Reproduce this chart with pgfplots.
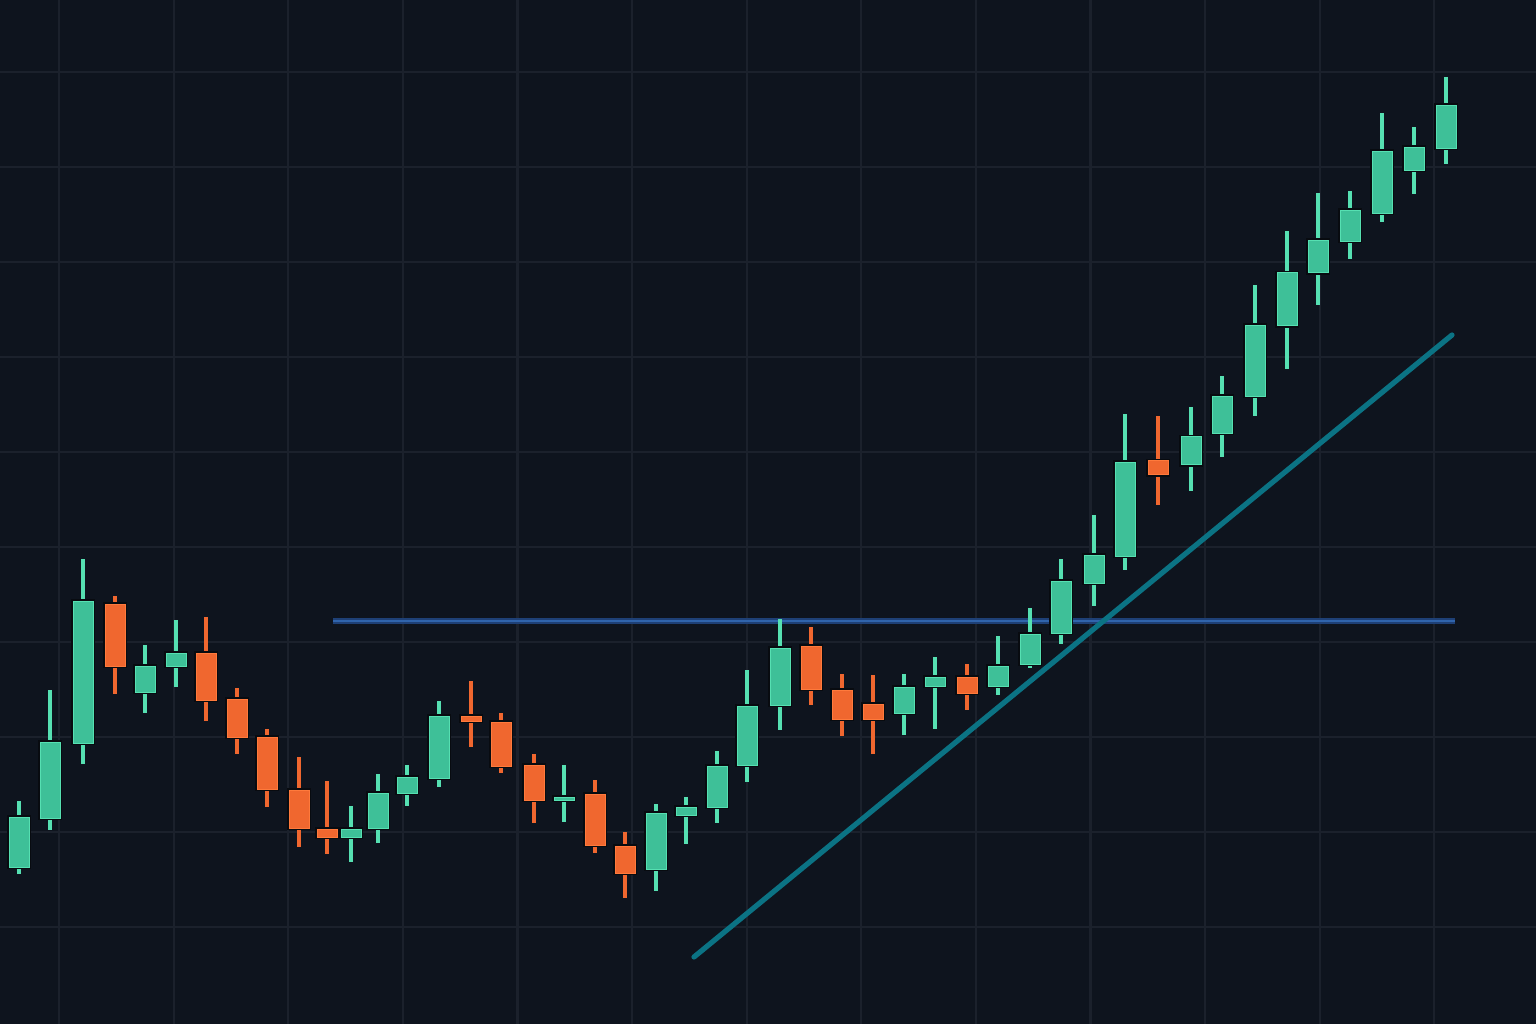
\documentclass[border=0pt]{standalone}
\usepackage{pgfplots}
\usepackage{pgfplotstable}
\pgfplotsset{compat=1.18}
\definecolor{bgcol}{RGB}{14,20,30}
\definecolor{gridcol}{RGB}{27,33,44}
\definecolor{upfill}{RGB}{62,192,152}
\definecolor{upedge}{RGB}{86,224,178}
\definecolor{dnfill}{RGB}{240,103,47}
\definecolor{dnedge}{RGB}{255,122,60}
\definecolor{outl}{RGB}{8,11,16}
\definecolor{trendcol}{RGB}{11,115,132}
\definecolor{levelcol}{RGB}{48,100,172}
\definecolor{leveledge}{RGB}{30,64,118}

% x = horizontal position, o/c/h/l = open, close, high, low
\pgfplotstableread{
x o c h l
19 156 207 223 150
50 205 282 334 194
83 280 423 465 260
145 331 358 379 311
176 357 371 404 337
351 186 195 218 162
378 195 231 250 181
407 230 247 259 218
439 245 308 323 237
564 223 227 259 202
656 154 211 220 133
686 208 217 227 180
717 216 258 273 201
747 258 318 354 242
780 318 376 405 294
904 310 337 350 289
935 337 347 367 295
998 337 358 388 329
1030 359 390 416 356
1061 390 443 465 380
1094 440 469 509 418
1125 467 562 610 454
1191 559 588 617 533
1222 590 628 648 567
1255 627 699 739 608
1287 698 752 793 655
1318 751 784 831 719
1350 782 814 833 765
1382 810 873 911 802
1414 853 877 897 830
1446 875 919 947 860
}\upcandles

\pgfplotstableread{
x o c h l
115 420 357 428 330
206 371 323 407 303
237 325 286 336 270
267 287 234 295 217
299 234 195 267 177
327 195 186 243 170
471 308 302 343 277
501 302 257 311 251
534 259 223 270 201
595 230 178 244 171
625 178 150 192 126
811 378 334 397 319
842 334 304 350 288
873 320 304 349 270
967 347 330 360 314
1158 564 549 608 519
}\dncandles

\pgfplotsset{
  layer/.style 2 args={draw=none, mark=none, forget plot,
    error bars/.cd, y dir=both, y explicit, error mark=none,
    error bar style={line width=#1, draw=#2, line cap=butt, solid}},
}

\begin{document}
\begin{tikzpicture}
\begin{axis}[
  name=ax,
  at={(0,0)}, anchor=south west,
  width=768bp, height=512bp, scale only axis,
  xmin=0, xmax=1536, ymin=0, ymax=1024,
  axis line style={draw=none},
  axis background/.style={fill=bgcol},
  xtick={59,173.6,288.2,402.8,517.4,632,746.6,861.2,975.8,1090.4,1205,1319.6,1434.2},
  ytick={97,192,287,382,477,572,667,762,857,952},
  xticklabels={}, yticklabels={},
  major tick length=0pt,
  tick style={draw=none},
  grid=major,
  major grid style={draw=gridcol, line width=1.1bp},
  clip=false,
]
% resistance level
\addplot[leveledge, line width=2.6bp, forget plot] coordinates {(333,403) (1455,403)};
\addplot[levelcol, line width=1.3bp, forget plot] coordinates {(333,403) (1455,403)};

% wicks
\addplot[layer={1.6bp}{upedge}] table[x=x, y expr={(\thisrow{h}+\thisrow{l})/2}, y error expr={(\thisrow{h}-\thisrow{l})/2}] {\upcandles};
\addplot[layer={1.6bp}{dnfill}] table[x=x, y expr={(\thisrow{h}+\thisrow{l})/2}, y error expr={(\thisrow{h}-\thisrow{l})/2}] {\dncandles};

% bodies: outline
\addplot[layer={11.8bp}{outl}] table[x=x, y expr={(\thisrow{o}+\thisrow{c})/2}, y error expr={abs(\thisrow{o}-\thisrow{c})/2+1.5}] {\upcandles};
\addplot[layer={11.8bp}{outl}] table[x=x, y expr={(\thisrow{o}+\thisrow{c})/2}, y error expr={abs(\thisrow{o}-\thisrow{c})/2+1.5}] {\dncandles};
% bodies: edge
\addplot[layer={10.5bp}{upedge}] table[x=x, y expr={(\thisrow{o}+\thisrow{c})/2}, y error expr={abs(\thisrow{o}-\thisrow{c})/2}] {\upcandles};
\addplot[layer={10.5bp}{dnedge}] table[x=x, y expr={(\thisrow{o}+\thisrow{c})/2}, y error expr={abs(\thisrow{o}-\thisrow{c})/2}] {\dncandles};
% bodies: fill
\addplot[layer={9.5bp}{upfill}] table[x=x, y expr={(\thisrow{o}+\thisrow{c})/2}, y error expr={max(abs(\thisrow{o}-\thisrow{c})/2-1,0)}] {\upcandles};
\addplot[layer={9.5bp}{dnfill}] table[x=x, y expr={(\thisrow{o}+\thisrow{c})/2}, y error expr={max(abs(\thisrow{o}-\thisrow{c})/2-1,0)}] {\dncandles};

% trend line
\addplot[trendcol, line width=2.6bp, line cap=round, forget plot] coordinates {(694,67) (1452,689)};
\end{axis}
\pgfresetboundingbox
\path[use as bounding box] (ax.south west) rectangle (ax.north east);
\end{tikzpicture}
\end{document}
